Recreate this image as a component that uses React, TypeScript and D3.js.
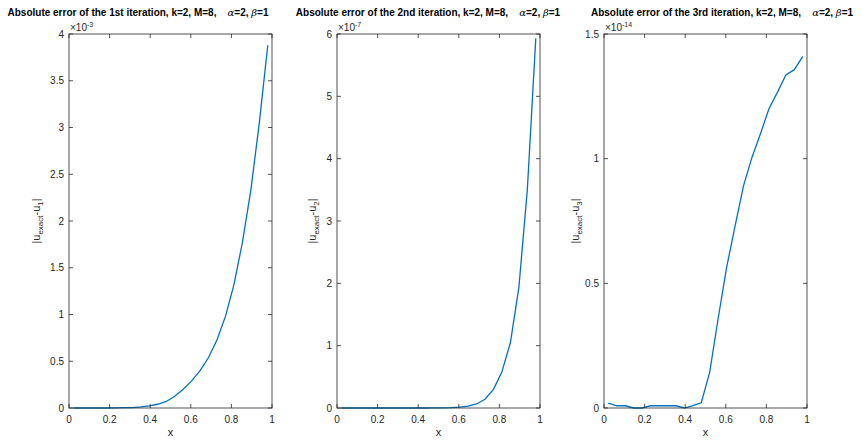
import React from "react";
import * as d3 from "d3";

const xs = [0.0208, 0.0625, 0.1042, 0.1458, 0.1875, 0.2292, 0.2708, 0.3125, 0.3542, 0.3958, 0.4375, 0.4792,
  0.5208, 0.5625, 0.6042, 0.6458, 0.6875, 0.7292, 0.7708, 0.8125, 0.8542, 0.8958, 0.9375, 0.9792];

// iteration 1 error (x 1e-3)
const err1 = [0, 0, 0, 0, 0, 0.001, 0.003, 0.005, 0.011, 0.022, 0.04, 0.07,
  0.125, 0.2, 0.29, 0.4, 0.54, 0.73, 0.98, 1.32, 1.77, 2.33, 3.05, 3.88];
// iteration 2 error (x 1e-7)
const err2 = [0, 0, 0, 0, 0, 0, 0, 0, 0, 0, 0, 0.001,
  0.003, 0.007, 0.015, 0.03, 0.065, 0.14, 0.3, 0.58, 1.05, 1.93, 3.5, 5.93];
// iteration 3 error (x 1e-14)
const err3 = [0.02, 0.009, 0.009, 0, 0, 0.009, 0.009, 0.009, 0.009, 0, 0.01, 0.021,
  0.144, 0.36, 0.565, 0.73, 0.892, 1.006, 1.1, 1.2, 1.266, 1.336, 1.357, 1.41];

const xTicks = [0, 0.2, 0.4, 0.6, 0.8, 1];
const yTicks1 = [0, 0.5, 1, 1.5, 2, 2.5, 3, 3.5, 4];
const yTicks2 = [0, 1, 2, 3, 4, 5, 6];
const yTicks3 = [0, 0.5, 1, 1.5];
const ordinals = ["1st", "2nd", "3rd"];
const exponents = ["-3", "-7", "-14"];
const subs = ["1", "2", "3"];

const panels = [
  { vals: err1, yMax: 4, yTicks: yTicks1, left: 69, titleX: 138, ylabX: 40 },
  { vals: err2, yMax: 6, yTicks: yTicks2, left: 337, titleX: 428, ylabX: 316 },
  { vals: err3, yMax: 1.5, yTicks: yTicks3, left: 604, titleX: 722, ylabX: 579 },
];

const W = 203;
const TOP = 34;
const BOTTOM = 408;
const AX = "#262626";
const FONT = "'Liberation Sans', Arial, Helvetica, sans-serif";
const TL = 4;

function Panel({ p, i }: { p: any; i: number }) {
  const x = d3.scaleLinear().domain([0, 1]).range([p.left, p.left + W]);
  const y = d3.scaleLinear().domain([0, p.yMax]).range([BOTTOM, TOP]);
  const line = d3.line<number>().x((_, k) => x(xs[k])).y((v) => y(v));
  const fmt = (v: number) => String(v);
  return (
    <g>
      <text x={p.titleX} y={16} textAnchor="middle" fontFamily={FONT} fontWeight="bold" fontSize={10} fill="#000">
        {`Absolute error of the ${ordinals[i]} iteration, k=2, M=8,\u00a0\u00a0\u00a0\u00a0`}
        <tspan fontFamily="'DejaVu Serif', serif" fontStyle="italic" fontWeight="normal">α</tspan>
        {"=2, "}
        <tspan fontFamily="'DejaVu Serif', serif" fontStyle="italic" fontWeight="normal">β</tspan>
        {"=1"}
      </text>
      <path d={line(p.vals) || ""} fill="none" stroke="#0072BD" strokeWidth={1.3} />
      <rect x={x(0)} y={TOP} width={W} height={BOTTOM - TOP} fill="none" stroke={AX} strokeWidth={0.8} />
      {xTicks.map((t) => (
        <g key={"x" + t}>
          <line x1={x(t)} x2={x(t)} y1={BOTTOM} y2={BOTTOM - TL} stroke={AX} strokeWidth={0.8} />
          <line x1={x(t)} x2={x(t)} y1={TOP} y2={TOP + TL} stroke={AX} strokeWidth={0.8} />
          <text x={x(t)} y={BOTTOM + 15} textAnchor="middle" fontFamily={FONT} fontSize={10} fill={AX}>{fmt(t)}</text>
        </g>
      ))}
      {p.yTicks.map((t: number) => (
        <g key={"y" + t}>
          <line x1={x(0)} x2={x(0) + TL} y1={y(t)} y2={y(t)} stroke={AX} strokeWidth={0.8} />
          <line x1={x(1)} x2={x(1) - TL} y1={y(t)} y2={y(t)} stroke={AX} strokeWidth={0.8} />
          <text x={x(0) - 5} y={y(t) + 3.5} textAnchor="end" fontFamily={FONT} fontSize={10} fill={AX}>{fmt(t)}</text>
        </g>
      ))}
      <text x={x(0) + 1} y={TOP - 3} fontFamily={FONT} fontSize={10} fill={AX}>
        {"×10"}
        <tspan fontSize={7} dy={-4}>{exponents[i]}</tspan>
      </text>
      <text x={x(0.5)} y={BOTTOM + 28} textAnchor="middle" fontFamily={FONT} fontSize={11} fill={AX}>x</text>
      <text transform={`translate(${p.ylabX},${(TOP + BOTTOM) / 2}) rotate(-90)`} textAnchor="middle" fontFamily={FONT} fontSize={11} fill={AX}>
        {"|u"}
        <tspan fontSize={8} dy={3}>exact</tspan>
        <tspan dy={-3}>-u</tspan>
        <tspan fontSize={8} dy={3}>{subs[i]}</tspan>
        <tspan dy={-3}>|</tspan>
      </text>
    </g>
  );
}

export default function App() {
  return (
    <svg width={866} height={440} style={{ display: "block", position: "absolute", left: 0, top: 0, background: "#fff" }}>
      <rect width={866} height={440} fill="#fff" />
      {panels.map((p, i) => <Panel key={i} p={p} i={i} />)}
    </svg>
  );
}
